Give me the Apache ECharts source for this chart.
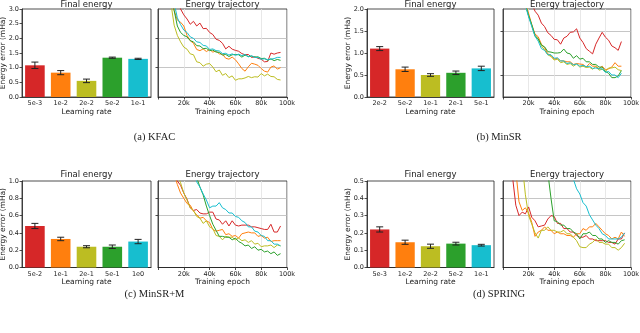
<!DOCTYPE html>
<html>
<head>
<meta charset="utf-8">
<script src="https://cdn.jsdelivr.net/npm/echarts@6/dist/echarts.min.js"></script>
<style>
  html, body { margin: 0; padding: 0; background: #fff; }
  #chart { width: 640px; height: 333px; }
</style>
</head>
<body>
<div id="chart"></div>
<script>
// ---- data ----
const colors = ['#d62728', '#ff7f0e', '#bcbd22', '#2ca02c', '#17becf'];
const epochs = [5000, 7500, 10000, 12500, 15000, 17500, 20000, 22500, 25000, 27500, 30000, 32500, 35000, 37500, 40000, 42500, 45000, 47500, 50000, 52500, 55000, 57500, 60000, 62500, 65000, 67500, 70000, 72500, 75000, 77500, 80000, 82500, 85000, 87500, 90000, 92500, 95000];
const epochTicks = [20000, 40000, 60000, 80000, 100000];

// (a) KFAC
const kfacRates = ['5e-3', '1e-2', '2e-2', '5e-2', '1e-1'];
const kfacFinal = [1.08, 0.83, 0.55, 1.34, 1.30];
const kfacErr = [0.11, 0.07, 0.06, 0.02, 0.02];
const kfacRed = [6, 5.5, 4.8, 4.0, 3.4, 3.0, 2.8, 2.66, 2.48, 2.58, 2.42, 2.52, 2.33, 2.34, 2.2, 2.13, 1.97, 1.93, 1.83, 1.64, 1.73, 1.63, 1.59, 1.56, 1.48, 1.44, 1.45, 1.35, 1.37, 1.32, 1.29, 1.2, 1.21, 1.5, 1.46, 1.5, 1.52];
const kfacOrange = [5.0, 4.0, 3.4, 2.95, 2.62, 2.55, 2.42, 2.1, 1.92, 1.83, 1.62, 1.58, 1.64, 1.55, 1.62, 1.53, 1.57, 1.47, 1.46, 1.32, 1.29, 1.36, 1.27, 1.13, 0.97, 0.88, 1.03, 1.15, 1.12, 1.08, 0.97, 0.88, 0.85, 1.02, 1.06, 0.95, 1.0];
const kfacOlive = [5.0, 4.0, 3.2, 2.45, 2.1, 1.88, 1.7, 1.63, 1.47, 1.44, 1.2, 1.17, 1.05, 1.12, 1.14, 1.02, 0.86, 0.92, 0.74, 0.8, 0.66, 0.72, 0.57, 0.62, 0.62, 0.65, 0.7, 0.66, 0.69, 0.68, 0.8, 0.72, 0.78, 0.7, 0.69, 0.6, 0.58];
const kfacGreen = [5.2, 4.2, 3.5, 2.95, 2.42, 2.2, 2.1, 2.05, 1.92, 1.88, 1.75, 1.74, 1.65, 1.66, 1.58, 1.6, 1.53, 1.52, 1.43, 1.45, 1.38, 1.44, 1.45, 1.44, 1.36, 1.43, 1.38, 1.39, 1.36, 1.37, 1.31, 1.32, 1.25, 1.3, 1.24, 1.28, 1.25];
const kfacCyan = [5.5, 4.6, 3.8, 3.2, 2.7, 2.47, 2.28, 2.2, 2.05, 2.0, 1.88, 1.86, 1.76, 1.74, 1.62, 1.64, 1.58, 1.57, 1.48, 1.49, 1.43, 1.47, 1.42, 1.46, 1.41, 1.45, 1.37, 1.41, 1.35, 1.35, 1.29, 1.3, 1.28, 1.29, 1.31, 1.35, 1.35];

// (b) MinSR
const minsrRates = ['2e-2', '5e-2', '1e-1', '2e-1', '5e-1'];
const minsrFinal = [1.10, 0.63, 0.50, 0.55, 0.65];
const minsrErr = [0.045, 0.05, 0.03, 0.04, 0.05];
const minsrRed = [8, 6, 4.5, 3.5, 2.9, 2.5, 2.25, 2.12, 1.95, 1.86, 1.68, 1.6, 1.46, 1.4, 1.31, 1.3, 1.2, 1.34, 1.38, 1.47, 1.48, 1.55, 1.34, 1.24, 1.1, 1.04, 0.98, 1.2, 1.34, 1.47, 1.36, 1.29, 1.16, 1.12, 1.06, 1.26, null];
const minsrOrange = [6, 4.5, 3.4, 2.7, 2.35, 2.15, 1.9, 1.64, 1.43, 1.37, 1.2, 1.12, 0.98, 0.94, 0.86, 0.88, 0.82, 0.82, 0.8, 0.8, 0.74, 0.76, 0.75, 0.74, 0.68, 0.76, 0.7, 0.7, 0.64, 0.7, 0.62, 0.64, 0.68, 0.78, 0.7, 0.7, null];
const minsrOlive = [6, 4.6, 3.5, 2.75, 2.35, 2.12, 1.85, 1.62, 1.38, 1.32, 1.16, 1.07, 0.96, 0.92, 0.84, 0.86, 0.78, 0.8, 0.74, 0.76, 0.7, 0.75, 0.68, 0.7, 0.67, 0.68, 0.63, 0.69, 0.61, 0.63, 0.58, 0.66, 0.66, 0.68, 0.62, 0.6, null];
const minsrGreen = [6, 4.4, 3.3, 2.6, 2.25, 2.1, 1.85, 1.64, 1.4, 1.32, 1.18, 1.14, 1.03, 1.02, 1.0, 1.0, 1.01, 1.09, 1.0, 0.98, 0.88, 0.94, 0.86, 0.88, 0.8, 0.8, 0.74, 0.74, 0.68, 0.68, 0.58, 0.54, 0.44, 0.44, 0.48, 0.6, null];
const minsrCyan = [6, 4.5, 3.4, 2.7, 2.3, 2.08, 1.82, 1.6, 1.38, 1.27, 1.1, 1.06, 0.96, 0.96, 0.88, 0.89, 0.82, 0.82, 0.76, 0.78, 0.73, 0.75, 0.7, 0.72, 0.69, 0.7, 0.65, 0.66, 0.64, 0.64, 0.56, 0.58, 0.5, 0.5, 0.44, 0.54, null];

// (c) MinSR+M
const minsrmRates = ['5e-2', '1e-1', '2e-1', '5e-1', '1e0'];
const minsrmFinal = [0.48, 0.33, 0.24, 0.24, 0.30];
const minsrmErr = [0.03, 0.02, 0.012, 0.02, 0.025];
const minsrmRed = [1.6, 1.4, 1.2, 1.08, 1.0, 0.95, 0.86, 0.79, 0.69, 0.66, 0.67, 0.63, 0.62, 0.62, 0.64, 0.64, 0.56, 0.55, 0.5, 0.54, 0.48, 0.54, 0.49, 0.48, 0.49, 0.49, 0.49, 0.47, 0.47, 0.46, 0.45, 0.44, 0.44, 0.5, 0.41, 0.41, 0.48];
const minsrmOrange = [1.6, 1.4, 1.2, 1.08, 0.96, 0.86, 0.8, 0.74, 0.72, 0.65, 0.61, 0.57, 0.58, 0.54, 0.52, 0.44, 0.42, 0.43, 0.44, 0.38, 0.39, 0.36, 0.37, 0.34, 0.39, 0.4, 0.41, 0.4, 0.4, 0.36, 0.37, 0.34, 0.35, 0.3, 0.31, 0.31, 0.31];
const minsrmOlive = [1.8, 1.6, 1.4, 1.2, 1.07, 0.98, 0.86, 0.78, 0.69, 0.66, 0.59, 0.57, 0.51, 0.54, 0.47, 0.45, 0.37, 0.36, 0.32, 0.36, 0.35, 0.35, 0.32, 0.34, 0.31, 0.32, 0.29, 0.31, 0.27, 0.28, 0.24, 0.25, 0.25, 0.26, 0.23, 0.26, 0.25];
const minsrmGreen = [3, 2.8, 2.6, 2.4, 2.2, 2.0, 1.8, 1.6, 1.4, 1.2, 1.04, 0.93, 0.84, 0.71, 0.6, 0.5, 0.43, 0.36, 0.36, 0.35, 0.35, 0.32, 0.34, 0.3, 0.28, 0.25, 0.26, 0.22, 0.24, 0.2, 0.21, 0.18, 0.19, 0.16, 0.18, 0.14, 0.16];
const minsrmCyan = [3, 2.8, 2.6, 2.4, 2.2, 2.0, 1.8, 1.6, 1.35, 1.12, 0.99, 0.93, 0.85, 0.78, 0.69, 0.71, 0.71, 0.75, 0.69, 0.67, 0.63, 0.63, 0.59, 0.58, 0.54, 0.52, 0.47, 0.47, 0.42, 0.41, 0.37, 0.36, 0.31, 0.31, 0.27, 0.27, 0.25];

// (d) SPRING
const springRates = ['5e-3', '1e-2', '2e-2', '5e-2', '1e-1'];
const springFinal = [0.22, 0.146, 0.123, 0.138, 0.129];
const springErr = [0.015, 0.012, 0.012, 0.008, 0.005];
const springRed = [0.9, 0.52, 0.36, 0.3, 0.32, 0.31, 0.35, 0.29, 0.27, 0.235, 0.24, 0.245, 0.28, 0.3, 0.295, 0.255, 0.255, 0.225, 0.225, 0.205, 0.205, 0.185, 0.175, 0.175, 0.185, 0.165, 0.165, 0.155, 0.155, 0.155, 0.155, 0.145, 0.145, 0.135, 0.165, 0.165, 0.2];
const springOrange = [1.2, 0.8, 0.56, 0.38, 0.33, 0.345, 0.315, 0.26, 0.18, 0.205, 0.215, 0.235, 0.215, 0.215, 0.195, 0.205, 0.195, 0.195, 0.185, 0.185, 0.175, 0.195, 0.195, 0.225, 0.215, 0.235, 0.235, 0.255, 0.235, 0.215, 0.195, 0.185, 0.165, 0.175, 0.165, 0.205, 0.18];
const springOlive = [2, 1.5, 1.1, 0.8, 0.6, 0.42, 0.3, 0.25, 0.2, 0.17, 0.215, 0.215, 0.235, 0.215, 0.215, 0.205, 0.205, 0.215, 0.195, 0.195, 0.175, 0.155, 0.12, 0.115, 0.115, 0.135, 0.145, 0.165, 0.145, 0.145, 0.135, 0.135, 0.115, 0.115, 0.1, 0.115, 0.14];
const springGreen = [3, 2.8, 2.5, 2.2, 2.0, 1.8, 1.6, 1.4, 1.2, 1.0, 0.85, 0.7, 0.55, 0.4, 0.27, 0.265, 0.245, 0.245, 0.225, 0.225, 0.205, 0.195, 0.165, 0.195, 0.195, 0.205, 0.185, 0.185, 0.165, 0.165, 0.145, 0.155, 0.145, 0.145, 0.135, 0.155, 0.16];
const springCyan = [3.5, 3.3, 3.1, 2.9, 2.7, 2.5, 2.3, 2.1, 1.9, 1.7, 1.55, 1.4, 1.25, 1.1, 1.0, 0.9, 0.82, 0.76, 0.7, 0.6, 0.51, 0.455, 0.425, 0.375, 0.355, 0.305, 0.275, 0.245, 0.225, 0.195, 0.185, 0.165, 0.165, 0.165, 0.165, 0.175, 0.2];

const panels = [
  { rates: kfacRates, final: kfacFinal, err: kfacErr, traj: [kfacRed, kfacOrange, kfacOlive, kfacGreen, kfacCyan], yMax: 3, yStep: 0.5, yGrid: [1, 2], caption: '(a) KFAC' },
  { rates: minsrRates, final: minsrFinal, err: minsrErr, traj: [minsrRed, minsrOrange, minsrOlive, minsrGreen, minsrCyan], yMax: 2, yStep: 0.5, yGrid: [0.5, 1.5], caption: '(b) MinSR' },
  { rates: minsrmRates, final: minsrmFinal, err: minsrmErr, traj: [minsrmRed, minsrmOrange, minsrmOlive, minsrmGreen, minsrmCyan], yMax: 1, yStep: 0.2, yGrid: [0.6, 0.8], caption: '(c) MinSR+M' },
  { rates: springRates, final: springFinal, err: springErr, traj: [springRed, springOrange, springOlive, springGreen, springCyan], yMax: 0.5, yStep: 0.1, yGrid: [0.3, 0.4], caption: '(d) SPRING' }
];

// ---- layout ----
const layout = [
  { barLeft: 22, barW: 129, lineLeft: 158, lineW: 129, top: 9, h: 88, titleY: 4.5, capY: 137 },
  { barLeft: 367, barW: 127, lineLeft: 503, lineW: 128, top: 9, h: 88, titleY: 4.5, capY: 137 },
  { barLeft: 22, barW: 129, lineLeft: 158, lineW: 129, top: 181, h: 86.5, titleY: 175, capY: 294 },
  { barLeft: 367, barW: 127, lineLeft: 503, lineW: 128, top: 181, h: 86.5, titleY: 175, capY: 294 }
];

const FONT = 'DejaVu Sans';
const INK = '#222';

const grid = [], xAxis = [], yAxis = [], series = [], graphic = [];

panels.forEach((p, i) => {
  const L = layout[i];
  const gb = 2 * i, gl = 2 * i + 1;

  grid.push({ left: L.barLeft, top: L.top, width: L.barW, height: L.h, show: true, borderColor: INK, borderWidth: 0.8, outerBoundsMode: 'none' });
  grid.push({ left: L.lineLeft, top: L.top, width: L.lineW, height: L.h, show: true, borderColor: INK, borderWidth: 0.8, outerBoundsMode: 'none' });

  // bar chart axes
  xAxis.push({
    gridIndex: gb, type: 'category', data: p.rates,
    axisLine: { lineStyle: { color: INK, width: 0.8 } },
    axisTick: { alignWithLabel: true, length: 2.5, lineStyle: { color: INK, width: 0.8 } },
    axisLabel: { fontFamily: FONT, fontSize: 6.5, color: INK, margin: 3, interval: 0 },
    name: 'Learning rate', nameLocation: 'middle', nameGap: 11, nameMoveOverlap: false,
    nameTextStyle: { fontFamily: FONT, fontSize: 7.5, color: INK }
  });
  yAxis.push({
    gridIndex: gb, type: 'value', min: 0, max: p.yMax, interval: p.yStep,
    axisLine: { show: true, lineStyle: { color: INK, width: 0.8 } },
    axisTick: { show: true, length: 2.5, lineStyle: { color: INK, width: 0.8 } },
    axisLabel: { fontFamily: FONT, fontSize: 6.5, color: INK, margin: 3, formatter: v => v.toFixed(1) },
    splitLine: { show: false },
    name: 'Energy error (mHa)', nameLocation: 'middle', nameGap: 15, nameRotate: 90, nameMoveOverlap: false,
    nameTextStyle: { fontFamily: FONT, fontSize: 7.5, color: INK }
  });

  // trajectory axes
  xAxis.push({
    gridIndex: gl, type: 'value', min: 0, max: 100000, interval: 20000,
    axisLine: { lineStyle: { color: INK, width: 0.8 } },
    axisTick: { length: 2.5, lineStyle: { color: INK, width: 0.8 } },
    axisLabel: { fontFamily: FONT, fontSize: 6.5, color: INK, margin: 3, formatter: v => (epochTicks.includes(v) ? (v / 1000) + 'k' : '') },
    splitLine: { show: true, lineStyle: { color: '#e2e2e2', width: 0.8 } },
    name: 'Training epoch', nameLocation: 'middle', nameGap: 11, nameMoveOverlap: false,
    nameTextStyle: { fontFamily: FONT, fontSize: 7.5, color: INK }
  });
  yAxis.push({
    gridIndex: gl, type: 'value', min: 0, max: p.yMax,
    axisLine: { show: true, lineStyle: { color: INK, width: 0.8 } },
    axisTick: { show: true, length: 2.5, customValues: p.yGrid, lineStyle: { color: INK, width: 0.8 } },
    axisLabel: { show: false },
    splitLine: { show: true, lineStyle: { color: '#b8b8b8', width: 0.8 } }
  });

  // bars
  series.push({
    type: 'bar', xAxisIndex: gb, yAxisIndex: gb, barWidth: '76%', silent: true,
    data: p.final.map((v, j) => ({ value: v, itemStyle: { color: colors[j] } }))
  });

  // error bars
  series.push({
    type: 'custom', xAxisIndex: gb, yAxisIndex: gb, silent: true, z: 5,
    data: p.final.map((v, j) => [j, v - p.err[j], v + p.err[j]]),
    encode: { x: 0, y: [1, 2] },
    renderItem: (params, api) => {
      const lo = api.coord([api.value(0), api.value(1)]);
      const hi = api.coord([api.value(0), api.value(2)]);
      const w = 3.5;
      const st = { stroke: INK, lineWidth: 1 };
      return {
        type: 'group',
        children: [
          { type: 'line', shape: { x1: lo[0], y1: lo[1], x2: hi[0], y2: hi[1] }, style: st },
          { type: 'line', shape: { x1: lo[0] - w, y1: lo[1], x2: lo[0] + w, y2: lo[1] }, style: st },
          { type: 'line', shape: { x1: hi[0] - w, y1: hi[1], x2: hi[0] + w, y2: hi[1] }, style: st }
        ]
      };
    }
  });

  // trajectories
  p.traj.forEach((ys, c) => {
    series.push({
      type: 'line', xAxisIndex: gl, yAxisIndex: gl, silent: true,
      showSymbol: false, symbol: 'none', clip: true,
      lineStyle: { color: colors[c], width: 1 },
      itemStyle: { color: colors[c] },
      data: epochs.map((e, k) => [e, ys[k]])
    });
  });

  // titles + caption
  graphic.push({ type: 'text', x: L.barLeft + L.barW / 2, y: L.titleY,
    style: { text: 'Final energy', font: '8.5px ' + FONT, fill: INK, align: 'center', verticalAlign: 'middle' } });
  graphic.push({ type: 'text', x: L.lineLeft + L.lineW / 2, y: L.titleY,
    style: { text: 'Energy trajectory', font: '8.5px ' + FONT, fill: INK, align: 'center', verticalAlign: 'middle' } });
  graphic.push({ type: 'text', x: (L.barLeft + L.lineLeft + L.lineW) / 2, y: L.capY,
    style: { text: p.caption, font: '10.5px "Liberation Serif"', fill: INK, align: 'center', verticalAlign: 'middle' } });
});

const chart = echarts.init(document.getElementById('chart'), null, { renderer: 'canvas' });
chart.setOption({
  animation: false,
  backgroundColor: '#fff',
  grid, xAxis, yAxis, series, graphic
});
</script>
</body>
</html>
